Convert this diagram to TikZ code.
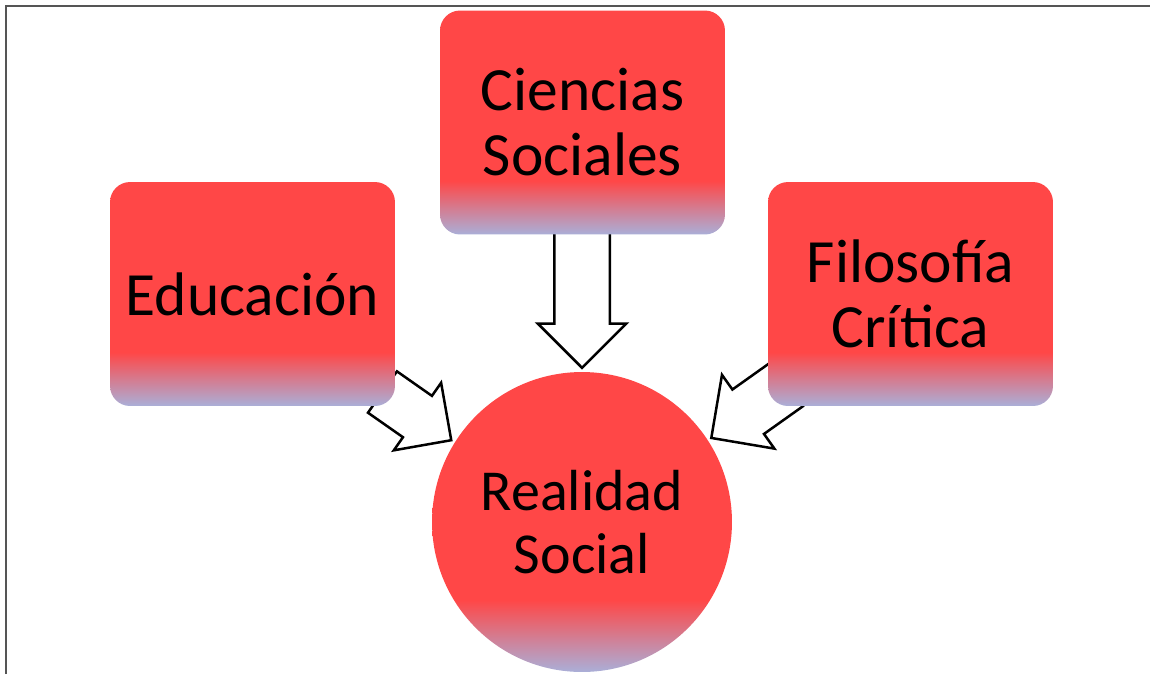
\documentclass[tikz,border=0pt]{standalone}
\usepackage{fontspec}
\setmainfont{Carlito}
\usetikzlibrary{shapes,arrows,positioning,calc}
\definecolor{boxred}{RGB}{255,71,71}
\definecolor{lavender}{RGB}{170,175,216}
\definecolor{framegray}{RGB}{85,85,85}
% red down to about 3/4, then fading into lavender
\pgfdeclareverticalshading{fadebox}{100bp}{color(0bp)=(lavender); color(25bp)=(lavender);
   color(37bp)=(boxred); color(100bp)=(boxred)}

\begin{document}
\begin{tikzpicture}[x=0.02cm, y=-0.02cm,
   every node/.style={font=\fontsize{35}{37}\selectfont, align=center},
   topic/.style={shading=fadebox, rounded corners=0.4cm, minimum width=5.7cm, minimum height=4.48cm},
   core/.style={circle, shading=fadebox, minimum size=6cm, inner sep=0pt, outer sep=0.05cm,
      font=\fontsize{33}{35.5}\selectfont},
   bigarrow/.style={single arrow, draw=black, fill=white, line width=0.05cm,
      single arrow tip angle=90, inner xsep=0pt, anchor=tip}]

    \useasboundingbox (0,0) rectangle (1150,674);
    \draw[framegray, line width=0.04cm] (6,674) |- (1150,6);

    % centre
    \node[core] (realidad) at (582,522) {Realidad\\Social};

    % block arrows, tips on the circle
    \node[bigarrow, rotate=-90, minimum height=2.8cm, inner ysep=0.53cm,
       single arrow head extend=0.33cm] (arrCiencias) at (realidad.north) {};
    \node[bigarrow, rotate=-35, minimum height=1.68cm, inner ysep=0.48cm,
       single arrow head extend=0.32cm] (arrEducacion) at (realidad.148) {};
    \node[bigarrow, rotate=-144.6, minimum height=1.86cm, inner ysep=0.52cm,
       single arrow head extend=0.36cm] (arrFilosofia) at (realidad.33) {};

    % the three boxes
    \node[topic] (ciencias) at (582.5,122.5) {Ciencias\\Sociales};
    \node[topic] (educacion) at (252.5,294) {Educación};
    \node[topic] (filosofia) at (910.5,294) {Filosofía\\Crítica};
\end{tikzpicture}
\end{document}
